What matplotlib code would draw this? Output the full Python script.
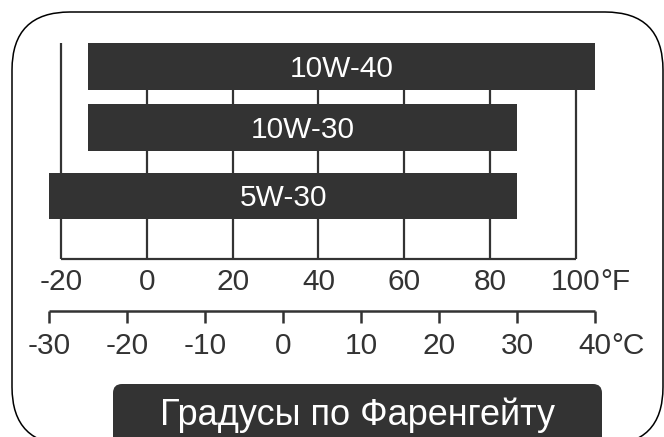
import matplotlib
matplotlib.use("Agg")
import matplotlib.pyplot as plt
from matplotlib.patches import FancyBboxPatch

plt.rcParams['font.family'] = ['Liberation Sans', 'DejaVu Sans']

# Oil grades and their usable temperature range (deg C)
oils = ["10W-40", "10W-30", "5W-30"]
t_min_c = [-25, -25, -30]
t_max_c = [40, 30, 30]

f_ticks = [-20, 0, 20, 40, 60, 80, 100]
c_ticks = [-30, -20, -10, 0, 10, 20, 30, 40]
title = "Градусы по Фаренгейту"

dark = "#333333"
W, H = 664, 437
tick_fs = 21.5

fig = plt.figure(figsize=(W / 100, H / 100), dpi=100)

# background decorations in pixel units
ax_bg = fig.add_axes([0, 0, 1, 1])
ax_bg.set_xlim(0, W)
ax_bg.set_ylim(H, 0)
ax_bg.axis('off')
# filled white so the outline is not clipped into odd segments at the edge
ax_bg.add_patch(FancyBboxPatch((12, 12), 651, 433,
                               boxstyle="round,pad=0,rounding_size=58",
                               facecolor="white", edgecolor="black", lw=1.1,
                               clip_on=False))
ax_bg.add_patch(FancyBboxPatch((113, 384), 489, 80,
                               boxstyle="round,pad=0,rounding_size=9",
                               facecolor=dark, edgecolor="none",
                               clip_on=False))
ax_bg.text(357.5, 425, title, color="white", fontsize=26,
           ha="center", va="baseline")

# Fahrenheit scale: grid lines and labels
ax_f = fig.add_axes([0, 0, 1, 1])
ax_f.patch.set_visible(False)
ax_f.set_xlim(-20 - 61 / 4.29, -20 + (W - 61) / 4.29)
ax_f.set_ylim(H, 0)
ax_f.axis('off')
ax_f.vlines(f_ticks, 43, 259, color=dark, lw=1.6)
ax_f.hlines(259, f_ticks[0], f_ticks[-1], color=dark, lw=1.6)
for t in f_ticks:
    ax_f.text(t, 290.5, str(t), color=dark, fontsize=tick_fs,
              ha="center", va="baseline")
ax_f.text(f_ticks[-1] + 5.8, 290.5, "°F", color=dark, fontsize=tick_fs,
          ha="left", va="baseline")

# Celsius scale: bars and lower axis
ax_c = fig.add_axes([0, 0, 1, 1])
ax_c.patch.set_visible(False)
ax_c.set_xlim(-30 - 49.3 / 7.8, -30 + (W - 49.3) / 7.8)
ax_c.set_ylim(H, 0)
ax_c.axis('off')

bar_y = [66.5, 127, 195.5]
bar_h = [47, 47, 46]
widths = [hi - lo for lo, hi in zip(t_min_c, t_max_c)]
ax_c.barh(bar_y, widths, left=t_min_c, height=bar_h, color=dark)
for name, lo, hi, y in zip(oils, t_min_c, t_max_c, bar_y):
    ax_c.text((lo + hi) / 2, y + 10.5, name, color="white", fontsize=21.5,
              ha="center", va="baseline")

ax_c.hlines(311, c_ticks[0], c_ticks[-1], color=dark, lw=1.8)
ax_c.vlines(c_ticks, 311, 323, color=dark, lw=1.8)
for t in c_ticks:
    ax_c.text(t, 354, str(t), color=dark, fontsize=tick_fs,
              ha="center", va="baseline")
ax_c.text(c_ticks[-1] + 2.1, 354, "°C", color=dark, fontsize=tick_fs,
          ha="left", va="baseline")

fig.savefig("out.png", dpi=100)
